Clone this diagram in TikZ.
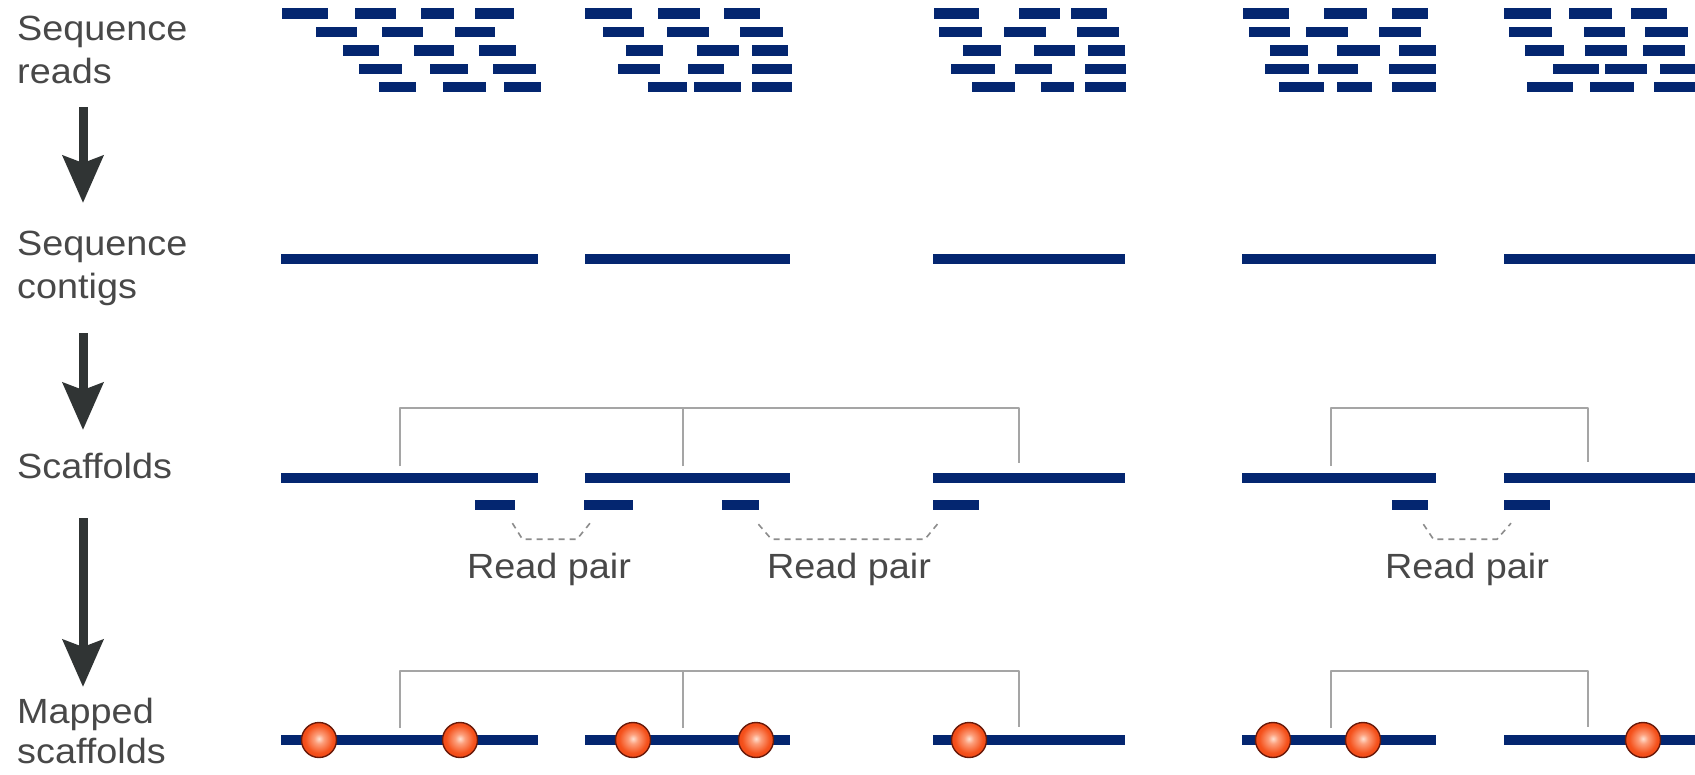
\documentclass[tikz,border=0pt]{standalone}
\usepackage{fontspec}
\setmainfont{Liberation Sans}[FakeStretch=1.08]
\usetikzlibrary{arrows.meta}

\definecolor{dnablue}{RGB}{4,38,112}
\definecolor{flowgray}{RGB}{48,52,52}
\definecolor{textgray}{RGB}{72,72,72}
\definecolor{linkgray}{RGB}{165,165,165}
\definecolor{dashgray}{RGB}{140,140,140}
\definecolor{beadedge}{RGB}{105,26,10}

% orange-red marker bead with a pale centre highlight
\pgfdeclareradialshading{beadshade}{\pgfpoint{0bp}{2bp}}{%
  rgb(0bp)=(1,0.88,0.82);
  rgb(7bp)=(0.99,0.62,0.48);
  rgb(20bp)=(0.96,0.32,0.11);
  rgb(38bp)=(0.91,0.21,0.05);
  rgb(46bp)=(0.72,0.13,0.03);
  rgb(50bp)=(0.45,0.08,0.02)}

\tikzset{
  lbl/.style={anchor=base west, inner sep=0pt, text=textgray,
    font=\fontsize{35}{42}\selectfont},
  pairlbl/.style={anchor=base, inner sep=0pt, text=textgray,
    font=\fontsize{35}{42}\selectfont},
  readbar/.style={draw=dnablue, line width=10.5pt},
  contig/.style={draw=dnablue, line width=10.5pt},
  pairread/.style={fill=dnablue, inner sep=0pt, minimum height=10pt,
    anchor=west, rectangle},
  bracket/.style={draw=linkgray, line width=2pt, line join=round},
  pairlink/.style={draw=dashgray, line width=1.6pt, dash pattern=on 6pt off 5pt},
  beadnode/.style={circle, minimum size=35pt, inner sep=0pt,
    shading=beadshade, draw=beadedge, line width=1.4pt},
  flow/.style={draw=flowgray, line width=9pt,
    -{Stealth[length=47pt, width=40pt, inset=7pt]}},
}

\begin{document}
\begin{tikzpicture}[x=1pt, y=-1pt]
\useasboundingbox (0,0) rectangle (1695,774);
\fill[white] (0,0) rectangle (1695,774);
\clip (0,0) rectangle (1695,774);

% ---- row labels ----
\node[lbl] (t1a) at (17,40)  {Sequence};
\node[lbl] (t1b) at (17,83)  {reads};
\node[lbl] (t2a) at (17,255) {Sequence};
\node[lbl] (t2b) at (17,298) {contigs};
\node[lbl] (t3)  at (17,478) {Scaffolds};
\node[lbl] (t4a) at (17,723) {Mapped};
\node[lbl] (t4b) at (17,763) {scaffolds};

% ---- step arrows ----
\coordinate (f1s) at (83,107);  \coordinate (f1e) at (83,203);
\coordinate (f2s) at (83,333);  \coordinate (f2e) at (83,430);
\coordinate (f3s) at (83,518);  \coordinate (f3e) at (83,687);
\draw[flow] (f1s) -- (f1e);
\draw[flow] (f2s) -- (f2e);
\draw[flow] (f3s) -- (f3e);

% ---- sequence reads ----
\foreach \ry/\segs in {
  13.5/{282/328,355/396,421/454,475/514,585/632,658/700,724/760,934/979,1019/1060,1071/1107,1243/1289,1324/1367,1392/1428,1504/1551,1569/1612,1631/1667},
  32/{316/357,382/423,455/495,603/644,667/709,740/783,939/982,1004/1046,1077/1119,1249/1290,1306/1348,1379/1421,1509/1552,1584/1625,1645/1688},
  50.5/{343/379,414/454,479/516,626/663,697/739,752/788,963/1001,1034/1075,1088/1125,1270/1308,1337/1380,1399/1436,1525/1564,1585/1627,1643/1685},
  69/{359/402,430/468,493/536,618/660,688/724,752/792,951/995,1015/1052,1085/1126,1265/1309,1318/1358,1389/1436,1553/1599,1605/1647,1660/1705},
  87/{379/416,443/486,504/541,648/687,694/741,752/792,972/1015,1041/1074,1085/1126,1279/1324,1337/1372,1392/1436,1527/1573,1590/1634,1654/1705}}
{
  \foreach \a/\b in \segs { \draw[readbar] (\a,\ry) -- (\b,\ry); }
}

% ---- contigs, scaffolds and mapped scaffolds share the same pieces ----
\foreach \rowy in {259,478,740} {
  \foreach \a/\b in {281/538,585/790,933/1125,1242/1436,1504/1705} {
    \draw[contig] (\a,\rowy) -- (\b,\rowy);
  }
}

% ---- scaffold brackets ----
\coordinate (katop) at (0,408);
\coordinate (ka1) at (400,466);
\coordinate (ka2) at (683,466);
\coordinate (ka3) at (1019,463);
\coordinate (kb1) at (1331,466);
\coordinate (kb2) at (1588,462);
\draw[bracket] (ka1) |- (ka3 |- katop) -- (ka3);
\draw[bracket] (ka2) -- (ka2 |- katop);
\draw[bracket] (kb1) |- (kb2 |- katop) -- (kb2);

\coordinate (matop) at (0,671);
\coordinate (ma1) at (400,728);
\coordinate (ma2) at (683,728);
\coordinate (ma3) at (1019,727);
\coordinate (mb1) at (1331,728);
\coordinate (mb2) at (1588,727);
\draw[bracket] (ma1) |- (ma3 |- matop) -- (ma3);
\draw[bracket] (ma2) -- (ma2 |- matop);
\draw[bracket] (mb1) |- (mb2 |- matop) -- (mb2);

% ---- paired end reads ----
\node[pairread, minimum width=40pt] (p1) at (475,505) {};
\node[pairread, minimum width=49pt] (p2) at (584,505) {};
\node[pairread, minimum width=37pt] (p3) at (722,505) {};
\node[pairread, minimum width=46pt] (p4) at (933,505) {};
\node[pairread, minimum width=36pt] (p5) at (1392,505) {};
\node[pairread, minimum width=46pt] (p6) at (1504,505) {};

\draw[pairlink] ([shift={(-3,13)}]p1.south east) -- ([shift={(7,29)}]p1.south east)
  -- ([shift={(-7,29)}]p2.south west) -- ([shift={(6,13)}]p2.south west);
\draw[pairlink] ([shift={(-1,14)}]p3.south east) -- ([shift={(12,29)}]p3.south east)
  -- ([shift={(-8,29)}]p4.south west) -- ([shift={(6,12)}]p4.south west);
\draw[pairlink] ([shift={(-5,14)}]p5.south east) -- ([shift={(5,29)}]p5.south east)
  -- ([shift={(-7,29)}]p6.south west) -- ([shift={(7,13)}]p6.south west);

\node[pairlbl] (rp1) at (549,578)  {Read pair};
\node[pairlbl] (rp2) at (849,578)  {Read pair};
\node[pairlbl] (rp3) at (1467,578) {Read pair};

% ---- map markers ----
\foreach \bx [count=\i] in {319,460,633,756,969,1273,1363,1643} {
  \node[beadnode] (b\i) at (\bx,740) {};
}
\end{tikzpicture}
\end{document}
